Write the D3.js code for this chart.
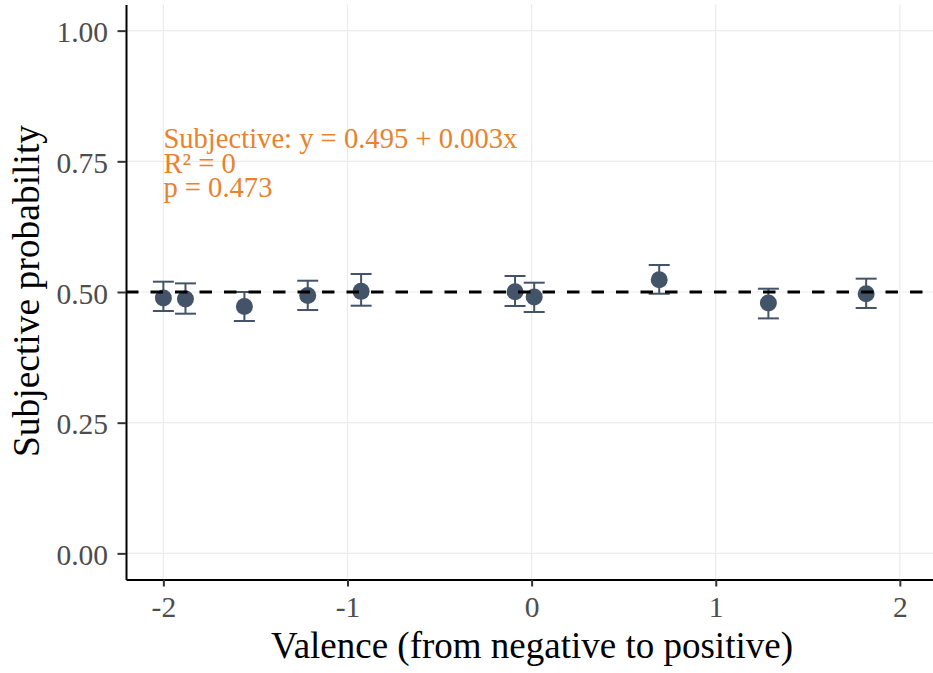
<!DOCTYPE html>
<html>
<head>
    <meta charset="utf-8">
    <title>Subjective probability by valence</title>
    <script src="https://cdn.jsdelivr.net/npm/d3@7"></script>
    <style>
        body { margin: 0; background: #fff; }
        svg { display: block; font-family: "Liberation Serif", "Times New Roman", serif; }
    </style>
</head>
<body>
    <svg width="933" height="673"></svg>
    <script>
        // values
        const valence = [-2.0, -1.88, -1.56, -1.216, -0.926, -0.09, 0.014, 0.693, 1.286, 1.817]
        const prob = [0.4885, 0.4866, 0.4724, 0.4935, 0.5012, 0.5006, 0.4904, 0.5235, 0.479, 0.4967]
        const lower = [0.4636, 0.4585, 0.4445, 0.4655, 0.4738, 0.4732, 0.4617, 0.4967, 0.4495, 0.4694]
        const upper = [0.5197, 0.5165, 0.50, 0.5216, 0.5344, 0.5306, 0.5178, 0.5517, 0.5063, 0.5255]
        const xTicks = [-2, -1, 0, 1, 2]
        const yTicks = [0, 0.25, 0.5, 0.75, 1]
        const refLine = 0.5
        const annotation = ['Subjective: y = 0.495 + 0.003x', 'R\u00b2 = 0', 'p = 0.473']

        const POINT_COLOR = '#435368'
        const ANNOT_COLOR = '#E8822E'
        const GRID = '#ebebeb'

        const svg = d3.select('svg')
        const x = d3.scaleLinear().domain([-2.203, 2.18]).range([126, 933])
        const y = d3.scaleLinear().domain([-0.05, 1.05]).range([579.5, 4.5])

        const data = valence.map((v, i) => ({ v, p: prob[i], lo: lower[i], hi: upper[i] }))

        // grid
        svg.append('g').selectAll('line').data(xTicks).join('line')
            .attr('x1', d => x(d)).attr('x2', d => x(d))
            .attr('y1', y.range()[1]).attr('y2', y.range()[0])
            .attr('stroke', GRID).attr('stroke-width', 1.2)
        svg.append('g').selectAll('line').data(yTicks).join('line')
            .attr('x1', x.range()[0]).attr('x2', x.range()[1])
            .attr('y1', d => y(d)).attr('y2', d => y(d))
            .attr('stroke', GRID).attr('stroke-width', 1.2)

        // error bars
        const eb = svg.append('g').attr('stroke', POINT_COLOR).attr('stroke-width', 2).attr('fill', 'none')
        eb.selectAll('.v').data(data).join('line').attr('class', 'v')
            .attr('x1', d => x(d.v)).attr('x2', d => x(d.v))
            .attr('y1', d => y(d.lo)).attr('y2', d => y(d.hi))
        eb.selectAll('.t').data(data).join('line').attr('class', 't')
            .attr('x1', d => x(d.v) - 10.5).attr('x2', d => x(d.v) + 10.5)
            .attr('y1', d => y(d.hi)).attr('y2', d => y(d.hi))
        eb.selectAll('.b').data(data).join('line').attr('class', 'b')
            .attr('x1', d => x(d.v) - 10.5).attr('x2', d => x(d.v) + 10.5)
            .attr('y1', d => y(d.lo)).attr('y2', d => y(d.lo))

        // points
        svg.append('g').selectAll('circle').data(data).join('circle')
            .attr('cx', d => x(d.v)).attr('cy', d => y(d.p))
            .attr('r', 8.5).attr('fill', POINT_COLOR)

        // dashed reference line
        svg.append('line')
            .attr('x1', x.range()[0]).attr('x2', x.range()[1])
            .attr('y1', y(refLine)).attr('y2', y(refLine))
            .attr('stroke', '#000').attr('stroke-width', 3.2)
            .attr('stroke-dasharray', '12.5,12')

        // annotation
        svg.append('text')
            .attr('x', x(-2)).attr('y', y(0.775))
            .attr('fill', ANNOT_COLOR).attr('font-size', 28.6)
            .selectAll('tspan').data(annotation).join('tspan')
            .attr('x', x(-2)).attr('dy', (d, i) => i === 0 ? 0 : 24.4)
            .text(d => d)

        // axes
        const xAxis = svg.append('g').attr('transform', `translate(0,${y.range()[0]})`)
            .call(d3.axisBottom(x).tickValues(xTicks).tickFormat(d3.format('d')).tickSize(7).tickSizeOuter(0).tickPadding(10))
        const yAxis = svg.append('g').attr('transform', `translate(${x.range()[0]},0)`)
            .call(d3.axisLeft(y).tickValues(yTicks).tickFormat(d3.format('.2f')).tickSize(8.5).tickSizeOuter(0).tickPadding(9.5))

        ;[xAxis, yAxis].forEach(a => {
            a.select('.domain').attr('stroke', '#000').attr('stroke-width', 2)
            a.selectAll('.tick line').attr('stroke', '#333').attr('stroke-width', 2)
            a.selectAll('.tick text').attr('fill', '#4d4d4d').attr('font-size', 29.5)
                .attr('font-family', '"Liberation Serif", "Times New Roman", serif')
        })
        xAxis.selectAll('.tick text').text(d => d < 0 ? '-' + Math.abs(d) : d)
        yAxis.selectAll('.tick text').attr('dy', '0.38em')

        // axis titles
        svg.append('text')
            .attr('x', 532).attr('y', 658)
            .attr('text-anchor', 'middle').attr('font-size', 37).attr('fill', '#000')
            .text('Valence (from negative to positive)')
        svg.append('text')
            .attr('transform', 'translate(39,291) rotate(-90)')
            .attr('text-anchor', 'middle').attr('font-size', 37.5).attr('fill', '#000')
            .text('Subjective probability')
    </script>
</body>
</html>
